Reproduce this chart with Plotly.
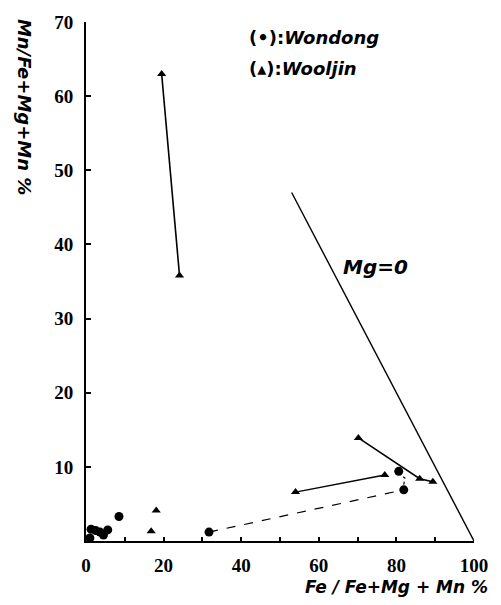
import plotly.graph_objects as go

# Wondong (circles)
wondong_x = [1.0, 1.3, 2.5, 3.6, 4.5, 5.6, 8.5, 31.7, 80.6, 81.9]
wondong_y = [0.4, 1.6, 1.4, 1.2, 0.8, 1.5, 3.3, 1.2, 9.4, 6.9]

# Wooljin (triangles)
wooljin_x = [19.5, 24.1, 18.1, 16.8, 54.0, 77.0, 70.2, 86.0, 89.4]
wooljin_y = [63.0, 35.8, 4.1, 1.3, 6.6, 8.9, 13.9, 8.4, 8.0]

# connecting tie lines
tie1_x = [19.5, 24.1]; tie1_y = [63.0, 35.8]
tie2_x = [54.0, 77.0]; tie2_y = [6.6, 8.9]
tie3_x = [70.2, 86.0, 89.4]; tie3_y = [13.9, 8.4, 8.0]
dash_x = [31.7, 81.9]; dash_y = [1.2, 6.9]
dot_x = [81.9, 82.2, 80.8]; dot_y = [7.6, 8.5, 9.0]

# Mg = 0 boundary
mg0_x = [53.0, 100.0]; mg0_y = [47.0, 0.0]

x_ticks = [0, 20, 40, 60, 80, 100]
y_ticks = [10, 20, 30, 40, 50, 60, 70]

fig = go.Figure()
blk = "black"
for xs, ys, dash, w in [(tie1_x, tie1_y, "solid", 1.6), (tie2_x, tie2_y, "solid", 1.4),
                        (tie3_x, tie3_y, "solid", 1.6), (dash_x, dash_y, "dash", 1.2),
                        (dot_x, dot_y, "dot", 1.2), (mg0_x, mg0_y, "solid", 1.4)]:
    fig.add_trace(go.Scatter(x=xs, y=ys, mode="lines", line=dict(color=blk, width=w, dash=dash),
                             hoverinfo="skip", showlegend=False, cliponaxis=False))

fig.add_trace(go.Scatter(x=wondong_x, y=wondong_y, mode="markers",
                         marker=dict(symbol="circle", size=9, color=blk),
                         showlegend=False, cliponaxis=False))
fig.add_trace(go.Scatter(x=wooljin_x, y=wooljin_y, mode="markers",
                         marker=dict(symbol="triangle-up", size=8, color=blk),
                         showlegend=False, cliponaxis=False))

tickfont = dict(family="Liberation Serif", size=19, color=blk, weight="bold")
fig.update_xaxes(range=[0, 100], tickvals=x_ticks, ticktext=[str(v) for v in x_ticks],
                 showgrid=False, zeroline=False, showline=True, linecolor=blk, linewidth=2,
                 ticks="inside", ticklen=4, tickcolor=blk, tickwidth=1.5,
                 minor=dict(tickvals=[10, 30, 50, 70, 90], ticks="inside", ticklen=4, tickcolor=blk),
                 ticklabelstandoff=6, tickfont=tickfont)
fig.update_yaxes(range=[0, 70], tickvals=y_ticks, ticktext=[str(v) for v in y_ticks],
                 showgrid=False, zeroline=False, showline=True, linecolor=blk, linewidth=2,
                 ticks="inside", ticklen=5, tickcolor=blk, tickwidth=1.5,
                 ticklabelstandoff=7, tickfont=tickfont)

tfont = dict(family="DejaVu Sans", size=17, color=blk)
fig.add_annotation(xref="paper", yref="paper", x=1.04, y=-0.065, xanchor="right", yanchor="top",
                   text="<b><i>Fe / Fe+Mg + Mn %</i></b>", showarrow=False, font=tfont)
fig.add_annotation(xref="paper", yref="paper", x=-0.16, y=1.01, xanchor="center", yanchor="top",
                   text="<b><i>Mn/Fe+Mg+Mn %</i></b>", textangle=90, showarrow=False,
                   font=dict(family="DejaVu Sans", size=18, color=blk))
lfont = dict(family="DejaVu Sans", size=18, color=blk)
fig.add_annotation(xref="paper", yref="paper", x=0.415, y=0.97, xanchor="left", yanchor="middle",
                   text="<b>(•):<i>Wondong</i></b>", showarrow=False, font=lfont)
fig.add_annotation(xref="paper", yref="paper", x=0.415, y=0.91, xanchor="left", yanchor="middle",
                   text="<b>(▴):<i>Wooljin</i></b>", showarrow=False, font=lfont)
fig.add_annotation(x=74.5, y=37, xanchor="center", yanchor="middle",
                   text="<b><i>Mg=0</i></b>", showarrow=False,
                   font=dict(family="DejaVu Sans", size=20, color=blk))

fig.update_layout(width=501, height=605, margin=dict(l=86, r=27, t=14, b=64),
                  plot_bgcolor="white", paper_bgcolor="white", showlegend=False)
fig.write_html("out.html", config={"displayModeBar": False},
               post_script="document.body.style.margin='0';document.body.style.padding='0';")
